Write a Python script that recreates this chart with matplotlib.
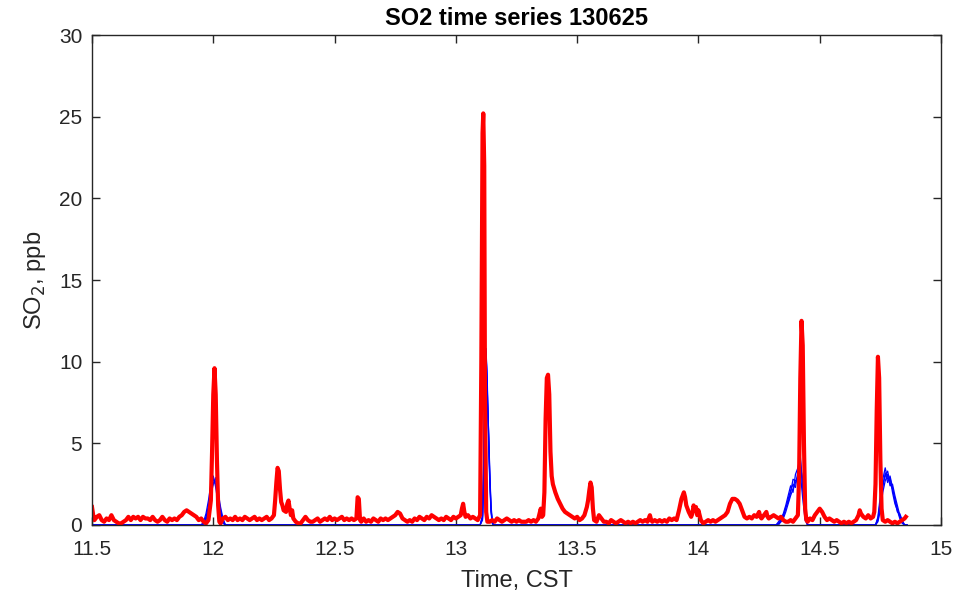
import matplotlib
matplotlib.use("Agg")
import matplotlib.pyplot as plt

plt.rcParams['font.family'] = ['Liberation Sans', 'DejaVu Sans']

red_time = [
    11.50, 11.505, 11.51, 11.52, 11.53, 11.54, 11.55, 11.56, 11.57, 11.58, 11.59,
    11.60, 11.61, 11.62, 11.63, 11.64, 11.65, 11.66, 11.67, 11.68, 11.69,
    11.70, 11.71, 11.72, 11.73, 11.74, 11.75, 11.76, 11.77, 11.78, 11.79,
    11.80, 11.81, 11.82, 11.83, 11.84, 11.85, 11.86, 11.87, 11.88, 11.89,
    11.90, 11.91, 11.92, 11.93, 11.94, 11.95, 11.96, 11.97, 11.98, 11.99,
    11.995, 12.00, 12.005, 12.01, 12.015, 12.02, 12.025, 12.03, 12.04, 12.05,
    12.06, 12.07, 12.08, 12.09, 12.10, 12.11, 12.12, 12.13, 12.14, 12.15,
    12.16, 12.17, 12.18, 12.19, 12.20, 12.21, 12.22, 12.23, 12.24, 12.25,
    12.255, 12.26, 12.265, 12.27, 12.275, 12.28, 12.285, 12.29, 12.30, 12.305,
    12.31, 12.315, 12.32, 12.325, 12.33, 12.34, 12.35, 12.36, 12.37, 12.38,
    12.39, 12.40, 12.41, 12.42, 12.43, 12.44, 12.45, 12.46, 12.47, 12.48,
    12.49, 12.50, 12.51, 12.52, 12.53, 12.54, 12.55, 12.56, 12.57, 12.58,
    12.59, 12.595, 12.60, 12.605, 12.61, 12.62, 12.63, 12.64, 12.65, 12.66,
    12.67, 12.68, 12.69, 12.70, 12.71, 12.72, 12.73, 12.74, 12.75, 12.76,
    12.77, 12.78, 12.79, 12.80, 12.81, 12.82, 12.83, 12.84, 12.85, 12.86,
    12.87, 12.88, 12.89, 12.90, 12.91, 12.92, 12.93, 12.94, 12.95, 12.96,
    12.97, 12.98, 12.99, 13.00, 13.01, 13.02, 13.025, 13.03, 13.035, 13.04,
    13.05, 13.06, 13.07, 13.08, 13.09, 13.10, 13.105, 13.11, 13.113, 13.117,
    13.12, 13.125, 13.13, 13.14, 13.15, 13.16, 13.17, 13.18, 13.19, 13.20,
    13.21, 13.22, 13.23, 13.24, 13.25, 13.26, 13.27, 13.28, 13.29, 13.30,
    13.31, 13.32, 13.33, 13.34, 13.35, 13.355, 13.36, 13.365, 13.37, 13.375,
    13.38, 13.385, 13.39, 13.395, 13.40, 13.41, 13.42, 13.43, 13.44, 13.45,
    13.46, 13.47, 13.48, 13.49, 13.50, 13.51, 13.52, 13.53, 13.54, 13.545,
    13.55, 13.555, 13.56, 13.565, 13.57, 13.58, 13.59, 13.60, 13.61, 13.62,
    13.63, 13.64, 13.65, 13.66, 13.67, 13.68, 13.69, 13.70, 13.71, 13.72,
    13.73, 13.74, 13.75, 13.76, 13.77, 13.78, 13.79, 13.80, 13.805, 13.81,
    13.82, 13.83, 13.84, 13.85, 13.86, 13.87, 13.88, 13.89, 13.90, 13.91,
    13.92, 13.93, 13.94, 13.945, 13.95, 13.96, 13.97, 13.975, 13.98, 13.985,
    13.99, 13.995, 14.00, 14.01, 14.02, 14.03, 14.04, 14.05, 14.06, 14.07,
    14.08, 14.09, 14.10, 14.11, 14.12, 14.13, 14.14, 14.15, 14.16, 14.17,
    14.18, 14.19, 14.20, 14.21, 14.22, 14.23, 14.24, 14.25, 14.255, 14.26,
    14.27, 14.28, 14.285, 14.29, 14.30, 14.31, 14.32, 14.33, 14.34, 14.35,
    14.36, 14.37, 14.38, 14.39, 14.40, 14.41, 14.415, 14.42, 14.425, 14.43,
    14.435, 14.44, 14.445, 14.45, 14.46, 14.47, 14.48, 14.49, 14.50, 14.51,
    14.52, 14.53, 14.54, 14.55, 14.56, 14.57, 14.58, 14.59, 14.60, 14.61,
    14.62, 14.63, 14.64, 14.65, 14.66, 14.665, 14.67, 14.68, 14.69, 14.70,
    14.71, 14.72, 14.725, 14.73, 14.735, 14.74, 14.745, 14.75, 14.755, 14.76,
    14.77, 14.78, 14.79, 14.80, 14.81, 14.82, 14.83, 14.84, 14.85, 14.855,
]

red_so2 = [
    1.1, 0.6, 0.3, 0.5, 0.6, 0.3, 0.2, 0.4, 0.3, 0.6, 0.3,
    0.2, 0.1, 0.1, 0.2, 0.3, 0.5, 0.3, 0.5, 0.4, 0.5,
    0.3, 0.5, 0.4, 0.4, 0.3, 0.5, 0.3, 0.2, 0.3, 0.5,
    0.3, 0.2, 0.4, 0.3, 0.4, 0.3, 0.5, 0.6, 0.8, 0.9,
    0.8, 0.7, 0.6, 0.5, 0.3, 0.4, 0.2, 0.1, 0.3, 1.5,
    4.5, 8.0, 9.6, 8.0, 4.0, 1.2, 0.2, 0.1, 0.4, 0.5,
    0.3, 0.4, 0.3, 0.5, 0.3, 0.4, 0.3, 0.5, 0.4, 0.3,
    0.4, 0.5, 0.3, 0.4, 0.3, 0.4, 0.5, 0.3, 0.4, 0.6,
    1.5, 2.6, 3.5, 3.3, 2.2, 1.4, 1.2, 0.9, 0.8, 1.3,
    1.5, 1.0, 0.6, 0.9, 0.4, 0.2, 0.1, 0.1, 0.3, 0.5,
    0.3, 0.2, 0.2, 0.3, 0.4, 0.2, 0.3, 0.4, 0.3, 0.5,
    0.3, 0.4, 0.3, 0.4, 0.5, 0.3, 0.4, 0.3, 0.4, 0.3,
    0.4, 1.7, 1.6, 0.3, 0.2, 0.4, 0.2, 0.3, 0.2, 0.4,
    0.3, 0.2, 0.4, 0.3, 0.4, 0.3, 0.4, 0.5, 0.6, 0.8,
    0.7, 0.4, 0.3, 0.2, 0.3, 0.2, 0.4, 0.3, 0.5, 0.4,
    0.3, 0.5, 0.4, 0.6, 0.5, 0.4, 0.3, 0.4, 0.3, 0.5,
    0.4, 0.3, 0.5, 0.4, 0.5, 0.6, 1.0, 1.3, 0.8, 0.5,
    0.6, 0.4, 0.5, 0.4, 0.3, 0.6, 10.0, 24.0, 25.2, 22.0,
    8.0, 0.8, 0.2, 0.2, 0.3, 0.2, 0.4, 0.3, 0.2, 0.3,
    0.4, 0.3, 0.2, 0.3, 0.2, 0.3, 0.2, 0.2, 0.2, 0.3,
    0.2, 0.3, 0.2, 0.4, 1.0, 0.5, 0.6, 2.0, 6.5, 9.0,
    9.2, 8.0, 4.5, 3.0, 2.5, 2.0, 1.6, 1.3, 1.0, 0.8,
    0.7, 0.6, 0.5, 0.4, 0.5, 0.3, 0.4, 0.6, 1.1, 1.5,
    2.1, 2.6, 2.3, 1.0, 0.3, 0.2, 0.6, 0.4, 0.2, 0.2,
    0.1, 0.3, 0.2, 0.1, 0.2, 0.3, 0.2, 0.1, 0.2, 0.1,
    0.2, 0.1, 0.2, 0.3, 0.2, 0.3, 0.2, 0.6, 0.3, 0.2,
    0.3, 0.2, 0.3, 0.2, 0.3, 0.2, 0.4, 0.3, 0.4, 0.3,
    0.9, 1.6, 2.0, 1.7, 1.2, 0.8, 0.5, 0.7, 1.2, 0.9,
    1.1, 0.6, 0.9, 0.3, 0.1, 0.2, 0.3, 0.2, 0.3, 0.2,
    0.3, 0.4, 0.5, 0.6, 0.8, 1.3, 1.6, 1.6, 1.5, 1.3,
    0.9, 0.5, 0.4, 0.5, 0.4, 0.6, 0.5, 0.8, 0.5, 0.4,
    0.6, 0.8, 0.5, 0.4, 0.5, 0.6, 0.5, 0.4, 0.5, 0.3,
    0.2, 0.2, 0.3, 0.2, 0.4, 0.6, 3.0, 9.0, 12.5, 11.0,
    5.0, 1.0, 0.3, 0.2, 0.4, 0.3, 0.6, 0.8, 1.0, 0.8,
    0.5, 0.3, 0.4, 0.3, 0.2, 0.3, 0.2, 0.1, 0.2, 0.1,
    0.2, 0.1, 0.2, 0.3, 0.6, 0.9, 0.7, 0.5, 0.4, 0.6,
    0.4, 0.5, 0.8, 2.5, 7.0, 10.3, 9.0, 4.0, 1.0, 0.3,
    0.2, 0.3, 0.2, 0.1, 0.2, 0.1, 0.2, 0.3, 0.4, 0.5,
]

blue_time = [
    11.50, 11.95, 11.96, 11.97, 11.98, 11.99, 12.00, 12.01, 12.02, 12.03, 12.04, 12.05,
    13.10, 13.11, 13.115, 13.12, 13.125, 13.13, 13.135, 13.14, 13.145, 13.15, 13.155,
    14.32, 14.33, 14.34, 14.35, 14.36, 14.37, 14.38, 14.39, 14.40, 14.41, 14.42, 14.43, 14.44, 14.45,
    14.72, 14.73, 14.74, 14.75, 14.76, 14.77, 14.78, 14.79, 14.80, 14.81, 14.82, 14.83, 14.84, 14.85, 14.86,
]
blue_so2_a = [
    0, 0, 0.1, 0.5, 1.2, 2.2, 2.8, 2.5, 1.6, 0.8, 0.2, 0,
    0, 0.5, 4.0, 9.0, 10.6, 8.0, 5.6, 3.0, 1.0, 0.2, 0,
    0, 0.1, 0.2, 0.4, 0.8, 1.3, 1.8, 2.2, 2.6, 3.0, 4.0, 2.2, 0.6, 0,
    0, 0, 0.3, 1.2, 2.5, 3.0, 3.3, 2.6, 2.2, 1.6, 1.0, 0.5, 0.2, 0, 0,
]
blue_so2_b = [
    0, 0, 0.2, 0.7, 1.5, 2.5, 3.0, 2.3, 1.3, 0.6, 0.1, 0,
    0, 0.3, 3.0, 8.0, 10.2, 8.5, 5.0, 2.5, 0.8, 0.1, 0,
    0, 0.1, 0.3, 0.6, 1.0, 1.6, 2.1, 2.5, 2.3, 3.3, 3.6, 2.8, 0.8, 0,
    0, 0, 0.5, 1.8, 2.8, 3.5, 2.8, 2.9, 2.0, 1.3, 0.9, 0.4, 0.1, 0, 0,
]
blue_so2_c = [
    0, 0, 0.1, 0.4, 1.0, 2.0, 2.6, 2.7, 1.8, 0.9, 0.3, 0,
    0, 0.6, 4.5, 9.5, 10.8, 7.5, 5.8, 3.2, 1.2, 0.3, 0,
    0, 0.0, 0.2, 0.5, 1.1, 1.4, 2.0, 2.8, 2.7, 2.9, 3.2, 1.6, 0.3, 0,
    0, 0, 0.2, 0.9, 2.0, 2.7, 3.1, 2.4, 2.5, 1.8, 1.2, 0.6, 0.2, 0, 0,
]
blue_so2_d = [
    0, 0, 0.0, 0.3, 0.9, 1.8, 2.5, 2.9, 2.0, 1.1, 0.4, 0,
    0, 0.4, 3.5, 8.5, 10.4, 8.2, 5.3, 2.8, 0.9, 0.2, 0,
    0, 0.2, 0.4, 0.7, 1.2, 1.8, 2.4, 2.0, 3.1, 3.5, 4.2, 2.5, 0.4, 0,
    0, 0, 0.4, 1.5, 2.3, 3.2, 2.6, 3.0, 2.3, 1.5, 0.8, 0.7, 0.3, 0, 0,
]

x_ticks = [11.5, 12, 12.5, 13, 13.5, 14, 14.5, 15]
x_ticklabels = ['11.5', '12', '12.5', '13', '13.5', '14', '14.5', '15']
y_ticks = [0, 5, 10, 15, 20, 25, 30]

fig = plt.figure(figsize=(9.56, 5.97), dpi=100)
ax = fig.add_axes([92/956, 1 - 525/597, (941-92)/956, (525-35)/597])

for series in (blue_so2_a, blue_so2_b, blue_so2_c, blue_so2_d):
    ax.plot(blue_time, series, color=(0, 0, 1), lw=0.9)
ax.plot(red_time, red_so2, color=(1, 0, 0), lw=3.0, solid_joinstyle='round')

ax.set_xlim(11.5, 15)
ax.set_ylim(0, 30)
ax.set_xticks(x_ticks)
ax.set_xticklabels(x_ticklabels)
ax.set_yticks(y_ticks)

axcol = (0.15, 0.15, 0.15)
for s in ax.spines.values():
    s.set_color(axcol)
    s.set_linewidth(1.0)
ax.tick_params(direction='in', length=6, width=1.0, colors=axcol,
               top=True, right=True, labelsize=15)
ax.tick_params(axis='x', pad=11)
ax.tick_params(axis='y', pad=7)

ax.set_title('SO2 time series 130625', fontsize=17, fontweight='bold', pad=7)
ax.set_xlabel('Time, CST', fontsize=17, color=axcol, labelpad=8)
ax.set_ylabel('SO$_2$, ppb', fontsize=17, color=axcol, labelpad=8)

fig.savefig('out.png', dpi=100)
